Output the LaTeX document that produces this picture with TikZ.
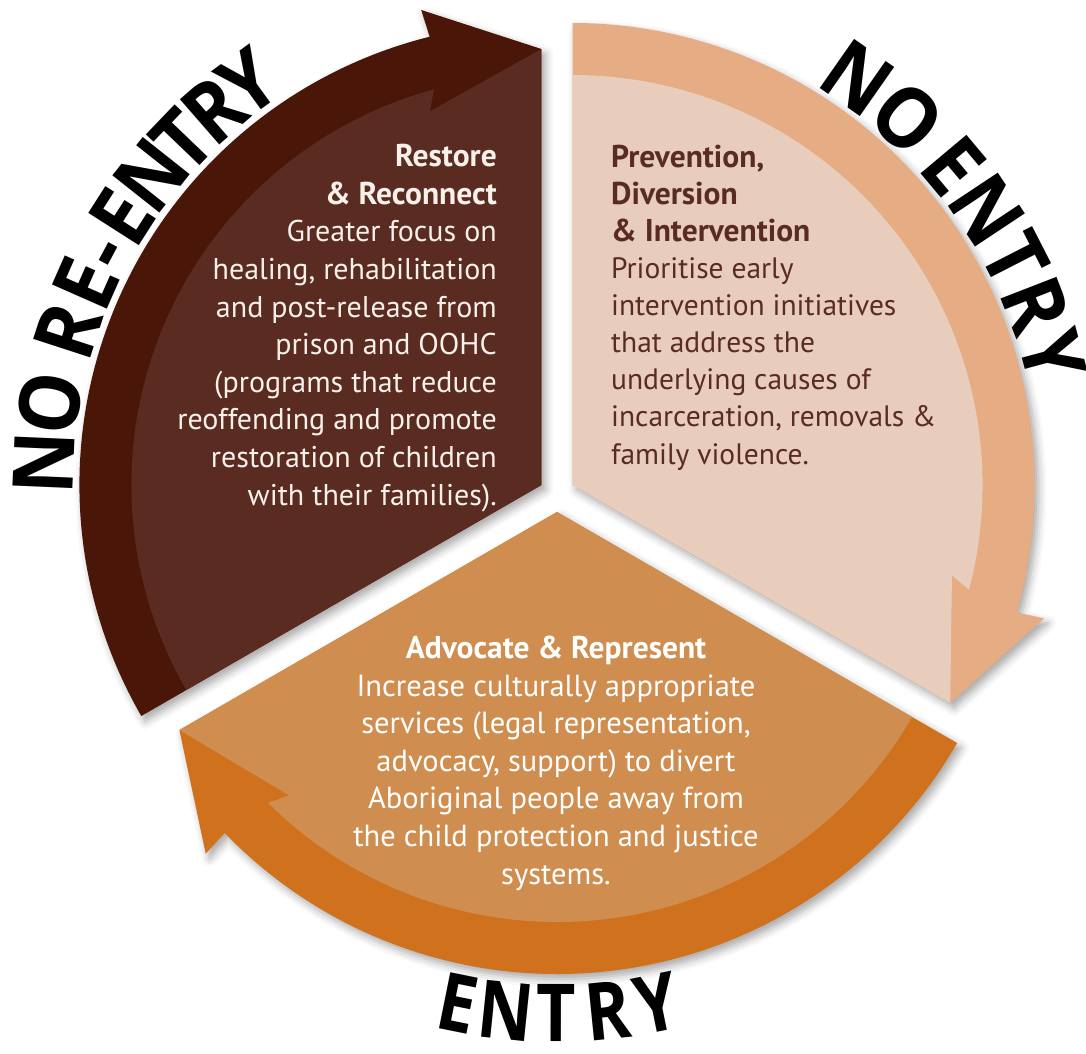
\documentclass[tikz,border=0pt]{standalone}
\usepackage{fontspec}
\setmainfont{PT Sans}
\newfontfamily\labelfont{Open Sans}
\usetikzlibrary{shadows.blur}

\definecolor{reband}{HTML}{4A1608}
\definecolor{recore}{HTML}{5A2B21}
\definecolor{pvband}{HTML}{E6AC84}
\definecolor{pvcore}{HTML}{E8CDBC}
\definecolor{adband}{HTML}{D0711E}
\definecolor{adcore}{HTML}{CF8E4F}
\definecolor{retext}{HTML}{F8F0EA}

\newcommand{\head}[1]{{\bfseries\fontsize{31.5}{37.5}\selectfont #1}}

\begin{document}
\begin{tikzpicture}[x=1pt, y=1pt]
    % Styles
    \tikzstyle{wedge}=[blur shadow={shadow xshift=4pt, shadow yshift=-5pt, shadow blur radius=8pt, shadow opacity=35}]
    \tikzstyle{body}=[inner sep=0pt]
    \tikzstyle{bigletter}=[font=\labelfont\bfseries\fontsize{84}{84}\selectfont, inner sep=0pt, anchor=base]
    \useasboundingbox (-557,-559) rectangle (529,494);
    % The three wedges, each pushed out along its bisector; outer band ends in an arrow head
    \foreach \s/\band/\core in {210/reband/recore, 90/pvband/pvcore, 330/adband/adcore} {
        \pgfmathsetmacro{\e}{\s-120}
        \pgfmathsetmacro{\m}{\s-60}
        \begin{scope}[shift={(\m:18)}]
            \fill[\band, wedge] (0,0) -- (\s:462) arc[start angle=\s, end angle=\e+14, radius=462]
                -- (\e+14.2:490) -- (\e:436) -- cycle;
            \fill[\core] (0,0) -- (\s:410) arc[start angle=\s, end angle=\e+15.2, radius=410]
                -- (\e+16.6:390) -- (\e:436) -- cycle;
        \end{scope}
    }
    % Texts inside the wedges (anchored on their last line)
    \node[body, font=\fontsize{30}{37.6}\selectfont, text=retext, align=right, anchor=base east] (restore) at (-60,-11)
        {\head{Restore}\\ \head{\& Reconnect}\\ Greater focus on\\ healing, rehabilitation\\
         and post-release from\\ prison and OOHC\\ (programs that reduce\\
         reoffending and promote\\ restoration of children\\ with their families).};
    \node[body, font=\fontsize{29.5}{37.1}\selectfont, text=recore, align=left, anchor=base west] (prevent) at (54,30)
        {\head{Prevention,}\\ \head{Diversion}\\ \head{\& Intervention}\\ Prioritise early\\
         intervention initiatives\\ that address the\\ underlying causes of\\
         incarceration, removals \&\\ family violence.};
    \node[body, font=\fontsize{30.5}{37.6}\selectfont, text=white, align=center, anchor=base] (advocate) at (-1,-390)
        {\head{Advocate \& Represent}\\ Increase culturally appropriate\\
         services (legal representation,\\ advocacy, support) to divert\\
         Aboriginal people away from\\ the child protection and justice\\ systems.};
    % Curved labels round the outside
    \begin{scope}[shift={(150:18)}]
        \foreach \l/\a [count=\i] in {N/177.5, O/170.6, R/162.0, E/156.2, -/151.9, E/147.4, N/141.6, T/136.2, R/131.1, Y/126.0}
            \node[bigletter, rotate=\a-90, xscale=0.92] (reentry\i) at (\a:468) {\l};
    \end{scope}
    \begin{scope}[shift={(30:18)}]
        \foreach \l/\a [count=\i] in {N/55.0, O/47.6, E/40.0, N/33.6, T/27.1, R/21.2, Y/15.0}
            \node[bigletter, rotate=\a-90, xscale=0.92] (noentry\i) at (\a:467) {\l};
    \end{scope}
    \begin{scope}[shift={(270:18)}]
        \foreach \l/\a [count=\i] in {E/258.6, N/264.1, T/269.9, R/275.8, Y/281.5}
            \node[bigletter, font=\labelfont\bfseries\fontsize{80}{80}\selectfont, rotate=\a+90, xscale=0.85] (entry\i) at (\a:530) {\l};
    \end{scope}
\end{tikzpicture}
\end{document}
